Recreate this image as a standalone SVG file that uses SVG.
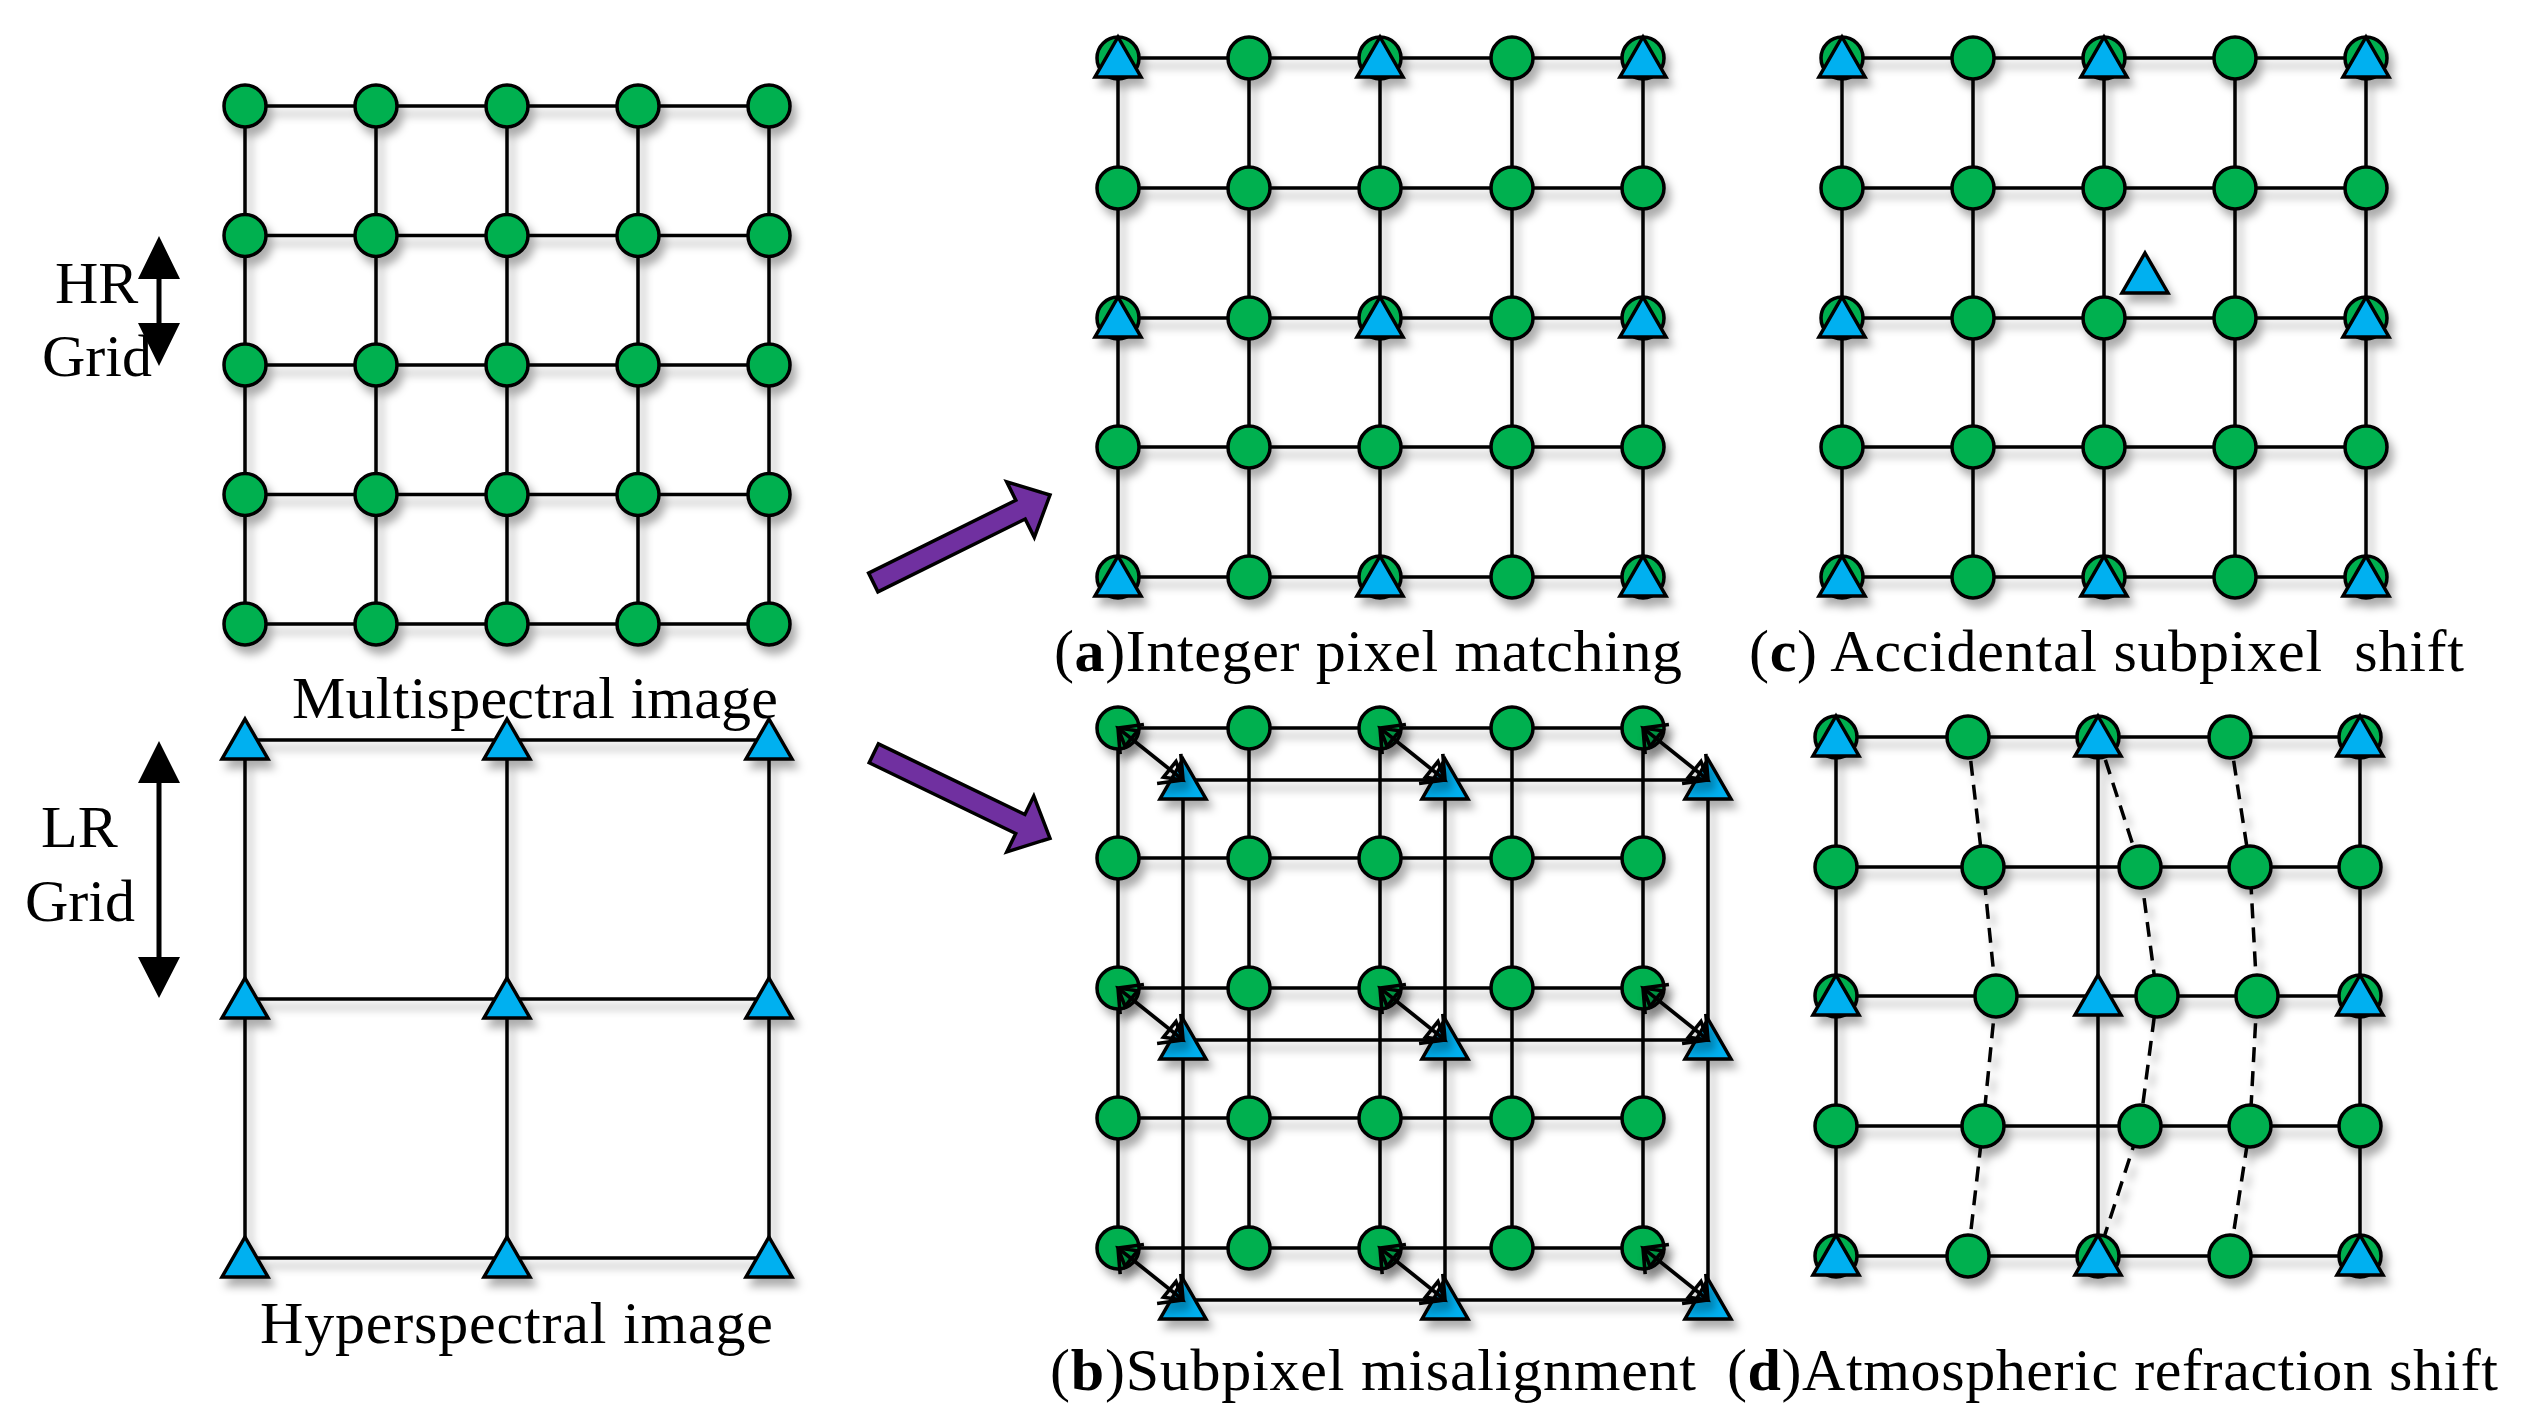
<svg xmlns="http://www.w3.org/2000/svg" xmlns:xlink="http://www.w3.org/1999/xlink" width="2532" height="1428" viewBox="0 0 2532 1428">
<style>
.ln{fill:none;stroke:#000;stroke-width:3.5}
.dash{fill:none;stroke:#000;stroke-width:3.5;stroke-dasharray:15 9}
.dot{fill:#00B050;stroke:#000;stroke-width:3.5}
.tri{fill:#00B0F0;stroke:#000;stroke-width:3.5;stroke-linejoin:miter}
.lbl{font-family:"Liberation Serif","Times New Roman",serif;font-size:60px;fill:#000}
.b{font-weight:bold}
.purple{fill:#7030A0;stroke:#000;stroke-width:3.5;stroke-linejoin:miter}
.blk{fill:#000;stroke:none}
.arr{fill:none;stroke:#000;stroke-width:3.6}
</style>
<defs>
<filter id="sh" x="-5%" y="-5%" width="115%" height="115%">
<feDropShadow dx="5" dy="8" stdDeviation="4" flood-color="#000" flood-opacity="0.32"/>
</filter>
<circle id="dot" cx="0" cy="0" r="21" class="dot"/>
<path id="tri" d="M0,-21 L23,19 L-23,19 Z" class="tri"/>
<marker id="oh" markerUnits="userSpaceOnUse" viewBox="-20 -20 22 40" refX="0" refY="0" markerWidth="22" markerHeight="40" orient="auto-start-reverse" overflow="visible">
<path d="M-18,-19 L0,0 L-18,19 M0,0 L-17,-10 L-17,10 Z" fill="none" stroke="#000" stroke-width="3.6" stroke-linejoin="miter"/>
</marker>
</defs>
<rect width="2532" height="1428" fill="#fff"/>

<!-- Multispectral HR grid -->
<g id="multispectral" filter="url(#sh)">
<path class="ln" d="M245,106H769M245,235.5H769M245,365H769M245,494.5H769M245,624H769M245,106V624M376,106V624M507,106V624M638,106V624M769,106V624"/>
<use id="m00" href="#dot" x="245" y="106"/><use id="m10" href="#dot" x="376" y="106"/><use id="m20" href="#dot" x="507" y="106"/><use id="m30" href="#dot" x="638" y="106"/><use id="m40" href="#dot" x="769" y="106"/>
<use id="m01" href="#dot" x="245" y="235.5"/><use id="m11" href="#dot" x="376" y="235.5"/><use id="m21" href="#dot" x="507" y="235.5"/><use id="m31" href="#dot" x="638" y="235.5"/><use id="m41" href="#dot" x="769" y="235.5"/>
<use id="m02" href="#dot" x="245" y="365"/><use id="m12" href="#dot" x="376" y="365"/><use id="m22" href="#dot" x="507" y="365"/><use id="m32" href="#dot" x="638" y="365"/><use id="m42" href="#dot" x="769" y="365"/>
<use id="m03" href="#dot" x="245" y="494.5"/><use id="m13" href="#dot" x="376" y="494.5"/><use id="m23" href="#dot" x="507" y="494.5"/><use id="m33" href="#dot" x="638" y="494.5"/><use id="m43" href="#dot" x="769" y="494.5"/>
<use id="m04" href="#dot" x="245" y="624"/><use id="m14" href="#dot" x="376" y="624"/><use id="m24" href="#dot" x="507" y="624"/><use id="m34" href="#dot" x="638" y="624"/><use id="m44" href="#dot" x="769" y="624"/>
</g>

<!-- Hyperspectral LR grid -->
<g id="hyperspectral" filter="url(#sh)">
<path class="ln" d="M245,740H769M245,999H769M245,1258H769M245,740V1258M507,740V1258M769,740V1258"/>
<use id="h00" href="#tri" x="245" y="740"/><use id="h10" href="#tri" x="507" y="740"/><use id="h20" href="#tri" x="769" y="740"/>
<use id="h01" href="#tri" x="245" y="999"/><use id="h11" href="#tri" x="507" y="999"/><use id="h21" href="#tri" x="769" y="999"/>
<use id="h02" href="#tri" x="245" y="1258"/><use id="h12" href="#tri" x="507" y="1258"/><use id="h22" href="#tri" x="769" y="1258"/>
</g>

<!-- (a) Integer pixel matching -->
<g id="panel-a" filter="url(#sh)">
<path class="ln" d="M1118,58H1643M1118,188H1643M1118,318H1643M1118,447H1643M1118,577H1643M1118,58V577M1249,58V577M1380,58V577M1512,58V577M1643,58V577"/>
<use id="a00" href="#dot" x="1118" y="58"/><use id="a10" href="#dot" x="1249" y="58"/><use id="a20" href="#dot" x="1380" y="58"/><use id="a30" href="#dot" x="1512" y="58"/><use id="a40" href="#dot" x="1643" y="58"/>
<use id="a01" href="#dot" x="1118" y="188"/><use id="a11" href="#dot" x="1249" y="188"/><use id="a21" href="#dot" x="1380" y="188"/><use id="a31" href="#dot" x="1512" y="188"/><use id="a41" href="#dot" x="1643" y="188"/>
<use id="a02" href="#dot" x="1118" y="318"/><use id="a12" href="#dot" x="1249" y="318"/><use id="a22" href="#dot" x="1380" y="318"/><use id="a32" href="#dot" x="1512" y="318"/><use id="a42" href="#dot" x="1643" y="318"/>
<use id="a03" href="#dot" x="1118" y="447"/><use id="a13" href="#dot" x="1249" y="447"/><use id="a23" href="#dot" x="1380" y="447"/><use id="a33" href="#dot" x="1512" y="447"/><use id="a43" href="#dot" x="1643" y="447"/>
<use id="a04" href="#dot" x="1118" y="577"/><use id="a14" href="#dot" x="1249" y="577"/><use id="a24" href="#dot" x="1380" y="577"/><use id="a34" href="#dot" x="1512" y="577"/><use id="a44" href="#dot" x="1643" y="577"/>
<use id="at00" href="#tri" x="1118" y="58"/><use id="at20" href="#tri" x="1380" y="58"/><use id="at40" href="#tri" x="1643" y="58"/>
<use id="at02" href="#tri" x="1118" y="318"/><use id="at22" href="#tri" x="1380" y="318"/><use id="at42" href="#tri" x="1643" y="318"/>
<use id="at04" href="#tri" x="1118" y="577"/><use id="at24" href="#tri" x="1380" y="577"/><use id="at44" href="#tri" x="1643" y="577"/>
</g>

<!-- (c) Accidental subpixel shift -->
<g id="panel-c" filter="url(#sh)">
<path class="ln" d="M1842,58H2366M1842,188H2366M1842,318H2366M1842,447H2366M1842,577H2366M1842,58V577M1973,58V577M2104,58V577M2235,58V577M2366,58V577"/>
<use id="c00" href="#dot" x="1842" y="58"/><use id="c10" href="#dot" x="1973" y="58"/><use id="c20" href="#dot" x="2104" y="58"/><use id="c30" href="#dot" x="2235" y="58"/><use id="c40" href="#dot" x="2366" y="58"/>
<use id="c01" href="#dot" x="1842" y="188"/><use id="c11" href="#dot" x="1973" y="188"/><use id="c21" href="#dot" x="2104" y="188"/><use id="c31" href="#dot" x="2235" y="188"/><use id="c41" href="#dot" x="2366" y="188"/>
<use id="c02" href="#dot" x="1842" y="318"/><use id="c12" href="#dot" x="1973" y="318"/><use id="c22" href="#dot" x="2104" y="318"/><use id="c32" href="#dot" x="2235" y="318"/><use id="c42" href="#dot" x="2366" y="318"/>
<use id="c03" href="#dot" x="1842" y="447"/><use id="c13" href="#dot" x="1973" y="447"/><use id="c23" href="#dot" x="2104" y="447"/><use id="c33" href="#dot" x="2235" y="447"/><use id="c43" href="#dot" x="2366" y="447"/>
<use id="c04" href="#dot" x="1842" y="577"/><use id="c14" href="#dot" x="1973" y="577"/><use id="c24" href="#dot" x="2104" y="577"/><use id="c34" href="#dot" x="2235" y="577"/><use id="c44" href="#dot" x="2366" y="577"/>
<use id="ct00" href="#tri" x="1842" y="58"/><use id="ct20" href="#tri" x="2104" y="58"/><use id="ct40" href="#tri" x="2366" y="58"/>
<use id="ct02" href="#tri" x="1842" y="318"/><use id="ct-shift" href="#tri" x="2145" y="274"/><use id="ct42" href="#tri" x="2366" y="318"/>
<use id="ct04" href="#tri" x="1842" y="577"/><use id="ct24" href="#tri" x="2104" y="577"/><use id="ct44" href="#tri" x="2366" y="577"/>
</g>

<!-- (b) Subpixel misalignment -->
<g id="panel-b" filter="url(#sh)">
<path class="ln" d="M1118,728H1643M1118,858H1643M1118,988H1643M1118,1118H1643M1118,1248H1643M1118,728V1248M1249,728V1248M1380,728V1248M1512,728V1248M1643,728V1248"/>
<path class="ln" d="M1183,780H1708M1183,1040H1708M1183,1300H1708M1183,780V1300M1445,780V1300M1708,780V1300"/>
<use id="b00" href="#dot" x="1118" y="728"/><use id="b10" href="#dot" x="1249" y="728"/><use id="b20" href="#dot" x="1380" y="728"/><use id="b30" href="#dot" x="1512" y="728"/><use id="b40" href="#dot" x="1643" y="728"/>
<use id="b01" href="#dot" x="1118" y="858"/><use id="b11" href="#dot" x="1249" y="858"/><use id="b21" href="#dot" x="1380" y="858"/><use id="b31" href="#dot" x="1512" y="858"/><use id="b41" href="#dot" x="1643" y="858"/>
<use id="b02" href="#dot" x="1118" y="988"/><use id="b12" href="#dot" x="1249" y="988"/><use id="b22" href="#dot" x="1380" y="988"/><use id="b32" href="#dot" x="1512" y="988"/><use id="b42" href="#dot" x="1643" y="988"/>
<use id="b03" href="#dot" x="1118" y="1118"/><use id="b13" href="#dot" x="1249" y="1118"/><use id="b23" href="#dot" x="1380" y="1118"/><use id="b33" href="#dot" x="1512" y="1118"/><use id="b43" href="#dot" x="1643" y="1118"/>
<use id="b04" href="#dot" x="1118" y="1248"/><use id="b14" href="#dot" x="1249" y="1248"/><use id="b24" href="#dot" x="1380" y="1248"/><use id="b34" href="#dot" x="1512" y="1248"/><use id="b44" href="#dot" x="1643" y="1248"/>
<use id="bt00" href="#tri" x="1183" y="780"/><use id="bt10" href="#tri" x="1445" y="780"/><use id="bt20" href="#tri" x="1708" y="780"/>
<use id="bt01" href="#tri" x="1183" y="1040"/><use id="bt11" href="#tri" x="1445" y="1040"/><use id="bt21" href="#tri" x="1708" y="1040"/>
<use id="bt02" href="#tri" x="1183" y="1300"/><use id="bt12" href="#tri" x="1445" y="1300"/><use id="bt22" href="#tri" x="1708" y="1300"/>
</g>

<!-- (d) Atmospheric refraction shift -->
<g id="panel-d" filter="url(#sh)">
<path class="ln" d="M1836,737H2360M1836,867H2360M1836,996H2360M1836,1126H2360M1836,1256H2360M1836,737V1256M2098,737V1256M2360,737V1256"/>
<path class="dash" d="M1968,737L1983,867L1996,996L1983,1126L1968,1256"/>
<path class="dash" d="M2098,737L2140,867L2157,996L2140,1126L2098,1256"/>
<path class="dash" d="M2230,737L2250,867L2257,996L2250,1126L2230,1256"/>
<use id="d00" href="#dot" x="1836" y="737"/><use id="d10" href="#dot" x="1968" y="737"/><use id="d20" href="#dot" x="2098" y="737"/><use id="d30" href="#dot" x="2230" y="737"/><use id="d40" href="#dot" x="2360" y="737"/>
<use id="d01" href="#dot" x="1836" y="867"/><use id="d11" href="#dot" x="1983" y="867"/><use id="d21" href="#dot" x="2140" y="867"/><use id="d31" href="#dot" x="2250" y="867"/><use id="d41" href="#dot" x="2360" y="867"/>
<use id="d02" href="#dot" x="1836" y="996"/><use id="d12" href="#dot" x="1996" y="996"/><use id="d22" href="#dot" x="2157" y="996"/><use id="d32" href="#dot" x="2257" y="996"/><use id="d42" href="#dot" x="2360" y="996"/>
<use id="d03" href="#dot" x="1836" y="1126"/><use id="d13" href="#dot" x="1983" y="1126"/><use id="d23" href="#dot" x="2140" y="1126"/><use id="d33" href="#dot" x="2250" y="1126"/><use id="d43" href="#dot" x="2360" y="1126"/>
<use id="d04" href="#dot" x="1836" y="1256"/><use id="d14" href="#dot" x="1968" y="1256"/><use id="d24" href="#dot" x="2098" y="1256"/><use id="d34" href="#dot" x="2230" y="1256"/><use id="d44" href="#dot" x="2360" y="1256"/>
<use id="dt00" href="#tri" x="1836" y="737"/><use id="dt20" href="#tri" x="2098" y="737"/><use id="dt40" href="#tri" x="2360" y="737"/>
<use id="dt02" href="#tri" x="1836" y="996"/><use id="dt22" href="#tri" x="2098" y="996"/><use id="dt42" href="#tri" x="2360" y="996"/>
<use id="dt04" href="#tri" x="1836" y="1256"/><use id="dt24" href="#tri" x="2098" y="1256"/><use id="dt44" href="#tri" x="2360" y="1256"/>
</g>

<!-- connectors -->
<g id="connectors">
<g id="shift-arrows" filter="url(#sh)">
<line class="arr" x1="1183" y1="780" x2="1118" y2="728" marker-start="url(#oh)" marker-end="url(#oh)"/>
<line class="arr" x1="1445" y1="780" x2="1380" y2="728" marker-start="url(#oh)" marker-end="url(#oh)"/>
<line class="arr" x1="1708" y1="780" x2="1643" y2="728" marker-start="url(#oh)" marker-end="url(#oh)"/>
<line class="arr" x1="1183" y1="1040" x2="1118" y2="988" marker-start="url(#oh)" marker-end="url(#oh)"/>
<line class="arr" x1="1445" y1="1040" x2="1380" y2="988" marker-start="url(#oh)" marker-end="url(#oh)"/>
<line class="arr" x1="1708" y1="1040" x2="1643" y2="988" marker-start="url(#oh)" marker-end="url(#oh)"/>
<line class="arr" x1="1183" y1="1300" x2="1118" y2="1248" marker-start="url(#oh)" marker-end="url(#oh)"/>
<line class="arr" x1="1445" y1="1300" x2="1380" y2="1248" marker-start="url(#oh)" marker-end="url(#oh)"/>
<line class="arr" x1="1708" y1="1300" x2="1643" y2="1248" marker-start="url(#oh)" marker-end="url(#oh)"/>
</g>
<polygon id="hr-arrow" class="blk" points="159,236 180,279 161.5,279 161.5,323 180,323 159,366 138,323 156.5,323 156.5,279 138,279"/>
<polygon id="lr-arrow" class="blk" points="159,741 180,783 161.5,783 161.5,957 180,957 159,998 138,957 156.5,957 156.5,783 138,783"/>
<polygon id="arrow-up" class="purple" points="868.6,573.1 1015.8,500.2 1006.7,481.8 1050,495 1034.3,537.4 1025.2,519 877.9,591.9"/>
<polygon id="arrow-down" class="purple" points="878.4,743.8 1024.9,814.5 1033.8,796.1 1050,838.3 1006.8,851.9 1015.7,833.5 869.2,762.8"/>
</g>

<!-- labels -->
<g id="labels">
<text class="lbl" x="55" y="303">HR</text>
<text class="lbl" x="42" y="376">Grid</text>
<text class="lbl" x="41" y="847">LR</text>
<text class="lbl" x="25" y="921">Grid</text>
<text class="lbl" x="292" y="718" textLength="486">Multispectral image</text>
<text class="lbl" x="260" y="1343" textLength="513">Hyperspectral image</text>
<text class="lbl" x="1054" y="671" textLength="628">(<tspan class="b">a</tspan>)Integer pixel matching</text>
<text class="lbl" x="1749" y="671" textLength="715" xml:space="preserve">(<tspan class="b">c</tspan>) Accidental subpixel  shift</text>
<text class="lbl" x="1050" y="1390" textLength="646">(<tspan class="b">b</tspan>)Subpixel misalignment</text>
<text class="lbl" x="1727" y="1390" textLength="771">(<tspan class="b">d</tspan>)Atmospheric refraction shift</text>
</g>
</svg>
